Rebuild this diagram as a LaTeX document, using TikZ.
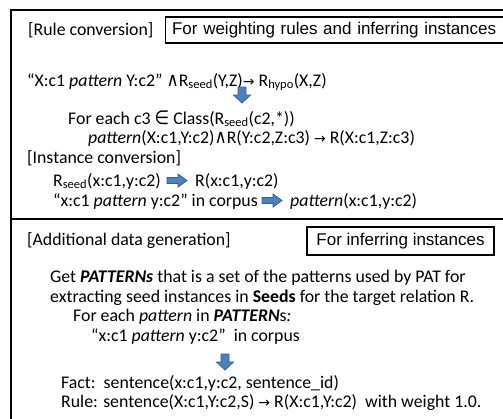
\documentclass[tikz,border=0pt]{standalone}
\usepackage{fontspec}
\setmainfont{Carlito}
\newfontfamily\boxfont{Liberation Sans}
\newfontfamily\symfont{DejaVu Sans}
\newcommand{\sym}[1]{{\symfont\fontsize{14bp}{17bp}\selectfont #1}}
\newcommand{\bigsym}[1]{{\symfont\fontsize{16bp}{17bp}\selectfont\scalebox{1.05}[1.2]{#1}}}
\newcommand{\Rs}{R\textsubscript{seed}}
\definecolor{arrowfill}{HTML}{4F81BD}
\definecolor{arrowline}{HTML}{385D8A}
\tikzset{
  txt/.style={inner sep=0pt, anchor=base west, font=\fontsize{17.8bp}{20bp}\selectfont},
  labelbox/.style={draw, line width=1.2bp, inner sep=0pt, font=\boxfont\fontsize{17bp}{20bp}\selectfont},
  blockarrow/.style={fill=arrowfill, draw=arrowline, line width=0.8bp, line join=miter},
  pics/downblock/.style={code={
    \draw[blockarrow] (-4,-8) -- (4,-8) -- (4,0) -- (8.5,0) -- (0,8) -- (-8.5,0) -- (-4,0) -- cycle;}},
  pics/rightblock/.style={code={
    \draw[blockarrow] (0,-3) -- (11,-3) -- (11,-6.5) -- (20,0) -- (11,6.5) -- (11,3) -- (0,3) -- cycle;}}
}
\begin{document}
\begin{tikzpicture}[x=1bp,y=-1bp]
\useasboundingbox (0,0) rectangle (503,418);
\clip (0,0) rectangle (503,418);

% outer frame and divider
\draw[line width=2.2bp] (11,430) -- (11,10) -- (520,10);
\draw[line width=1.5bp] (11,219) -- (520,219);

% upper part: rule and instance conversion
\node[txt] (rc) at (28,35) {[Rule conversion]};
\node[labelbox, anchor=west, minimum height=26bp, text width=350bp, align=left, inner xsep=6.5bp] (wbox) at (165,30) {For weighting rules and inferring instances};

\node[txt] (r1) at (27,86) {“X:c1 \textit{pattern} Y:c2” \bigsym{∧}\Rs(Y,Z)\sym{→} R\textsubscript{hypo}(X,Z)};
\pic at (242,95) {downblock};
\node[txt] (r2) at (68,124) {For each c3 \bigsym{∈} Class(\Rs(c2,*))};
\node[txt] (r3) at (88,143) {\textit{pattern}(X:c1,Y:c2)\bigsym{∧}R(Y:c2,Z:c3) \sym{→} R(X:c1,Z:c3)};

\node[txt] (ic) at (27,163) {[Instance conversion]};
\node[txt] (i1a) at (53,186) {\Rs(x:c1,y:c2)};
\coordinate (a1) at ([xshift=6bp,yshift=5.5bp]i1a.base east);
\pic at (a1) {rightblock};
\node[txt] (i1b) at ([xshift=34bp]i1a.base east) {R(x:c1,y:c2)};
\node[txt] (i2a) at (53,206) {“x:c1 \textit{pattern} y:c2” in corpus};
\coordinate (a2) at ([xshift=4bp,yshift=5.5bp]i2a.base east);
\pic at (a2) {rightblock};
\node[txt] (i2b) at ([xshift=32bp]i2a.base east) {\textit{pattern}(x:c1,y:c2)};

% lower part: additional data generation
\node[txt] (ad) at (27,245) {[Additional data generation]};
\node[labelbox, minimum width=187bp, minimum height=28bp] (ibox) at (400.5,241) {For inferring instances};

\node[txt] (g1) at (50,282) {Get \textbf{\textit{PATTERNs}} that is a set of the patterns used by PAT for};
\node[txt] (g2) at (50,302) {extracting seed instances in \textbf{Seeds} for the target relation R.};
\node[txt] (g3) at (73,321) {For each \textit{pattern} in \textbf{\textit{PATTERN}}s\textit{:}};
\node[txt] (g4) at (91,341) {“x:c1 \textit{pattern} y:c2”\ \ in corpus};
\pic at (225,362) {downblock};
\node[txt] (f1) at (61,388) {Fact:\ \ sentence(x:c1,y:c2, sentence\_id)};
\node[txt] (f2) at (61,407) {Rule: sentence(X:c1,Y:c2,S) \sym{→} R(X:c1,Y:c2)\ \ with weight 1.0.};
\end{tikzpicture}
\end{document}
